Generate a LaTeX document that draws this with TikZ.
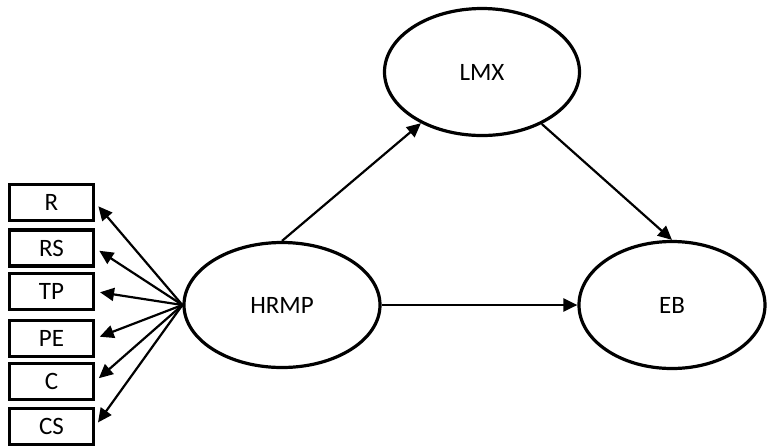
\documentclass[tikz,border=0pt]{standalone}
\usepackage{fontspec}
\setmainfont{Carlito}
\usetikzlibrary{arrows.meta,shapes.geometric}

\begin{document}
\begin{tikzpicture}[
        %One unit is one pixel of the picture, y runs downwards
        x=0.5pt, y=-0.5pt,
        latent/.style={draw, ellipse, line width=1.6pt, inner sep=0pt,
            font=\fontsize{12.5}{14}\selectfont},
        indicator/.style={draw, rectangle, line width=1.6pt, inner sep=0pt,
            minimum width=42pt, minimum height=18pt,
            font=\fontsize{12.5}{14}\selectfont},
        path arrow/.style={line width=1.1pt, -{Triangle[length=7pt,width=6.5pt]}},
        loading/.style={path arrow, shorten >=2.5pt},
        every node/.style={color=black}
    ]
    \useasboundingbox (0,0) rectangle (768,447);

    % Latent variables
    \node[latent, minimum width=98pt, minimum height=62.5pt] (hrmp) at (282,305) {HRMP};
    \node[latent, minimum width=97.5pt, minimum height=63.5pt] (lmx) at (482,72) {LMX};
    \node[latent, minimum width=93pt, minimum height=63.5pt] (eb) at (672,305) {EB};

    % Indicators
    \node[indicator] (r) at (51.5,202.5) {R};
    \node[indicator] (rs) at (51.5,248) {RS};
    \node[indicator] (tp) at (51.5,291.5) {TP};
    \node[indicator] (pe) at (51.5,338.5) {\raisebox{-2.5pt}{PE}};
    \node[indicator] (c) at (51.5,381.5) {C};
    \node[indicator] (cs) at (51.5,426.5) {CS};

    % Structural paths
    \draw[path arrow] (hrmp.north) -- (lmx.220);
    \draw[path arrow] (lmx.-41) -- (eb.north);
    \draw[path arrow] (hrmp.east) -- (eb.west);

    % Loadings
    \draw[loading] (hrmp.west) -- (r.east);
    \draw[loading] (hrmp.west) -- (rs.east);
    \draw[loading] (hrmp.west) -- (tp.east);
    \draw[loading] (hrmp.west) -- (pe.east);
    \draw[loading] (hrmp.west) -- (c.east);
    \draw[loading] (hrmp.west) -- (cs.east);
\end{tikzpicture}
\end{document}
